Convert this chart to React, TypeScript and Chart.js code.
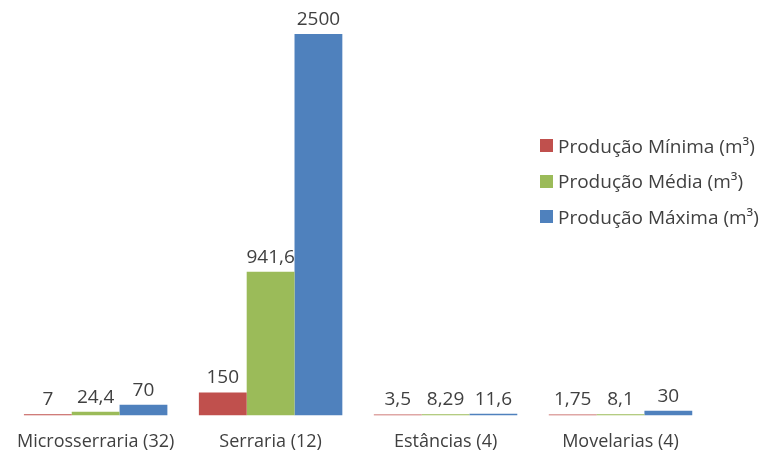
import React, { useEffect, useRef } from "react";
import { Chart, registerables } from "chart.js";

Chart.register(...registerables);

const categories = ["Microsserraria (32)", "Serraria (12)", "Estâncias (4)", "Movelarias (4)"];
const seriesNames = ["Produção Mínima (m³)", "Produção Média (m³)", "Produção Máxima (m³)"];
const minimo = [7, 150, 3.5, 1.75];
const media = [24.4, 941.6, 8.29, 8.1];
const maximo = [70, 2500, 11.6, 30];
const valueLabels = [
  ["7", "150", "3,5", "1,75"],
  ["24,4", "941,6", "8,29", "8,1"],
  ["70", "2500", "11,6", "30"],
];
const colors = ["#C0504D", "#9BBB59", "#4F81BD"];

const FONT = "'Open Sans', 'Noto Sans', sans-serif";
const TEXT = "#404040";

const labelPlugin = {
  id: "valueLabels",
  afterDatasetsDraw(chart: any) {
    const ctx = chart.ctx;
    ctx.save();
    ctx.font = `19px ${FONT}`;
    ctx.fillStyle = TEXT;
    ctx.textAlign = "center";
    ctx.textBaseline = "bottom";
    chart.data.datasets.forEach((ds: any, di: number) => {
      const meta = chart.getDatasetMeta(di);
      meta.data.forEach((bar: any, i: number) => {
        ctx.fillText(valueLabels[di][i], bar.x, bar.y - 5);
      });
    });
    ctx.restore();
  },
};

export default function App() {
  const ref = useRef<HTMLCanvasElement>(null);
  useEffect(() => {
    const chart = new Chart(ref.current!, {
      type: "bar",
      data: {
        labels: categories,
        datasets: [minimo, media, maximo].map((d, i) => ({
          label: seriesNames[i],
          data: d,
          backgroundColor: colors[i],
          borderWidth: 0,
          barPercentage: 1,
          categoryPercentage: 0.82,
          minBarLength: 1,
        })),
      },
      options: {
        animation: false,
        responsive: false,
        maintainAspectRatio: false,
        layout: { padding: { left: 8, right: 54, top: 34, bottom: -18 } },
        plugins: { legend: { display: false }, tooltip: { enabled: false } },
        scales: {
          x: {
            grid: { display: false, drawTicks: false },
            border: { display: false },
            ticks: { color: TEXT, font: { family: FONT, size: 18 }, padding: 16 },
          },
          y: { display: false, min: 0, max: 2500 },
        },
      },
      plugins: [labelPlugin],
    });
    return () => chart.destroy();
  }, []);

  return (
    <div style={{ position: "fixed", left: 0, top: 0, width: 762, height: 451, background: "#fff" }}>
      <canvas ref={ref} width={762} height={451} style={{ position: "absolute", left: 0, top: 0 }} />
      <div style={{ position: "absolute", left: 540, top: 128, fontFamily: FONT, fontSize: 19, color: TEXT }}>
        {seriesNames.map((n, i) => (
          <div key={n} style={{ display: "flex", alignItems: "center", height: 35.5, whiteSpace: "nowrap" }}>
            <span style={{ display: "inline-block", width: 13, height: 13, background: colors[i], marginRight: 5 }} />
            <span>{n}</span>
          </div>
        ))}
      </div>
    </div>
  );
}
